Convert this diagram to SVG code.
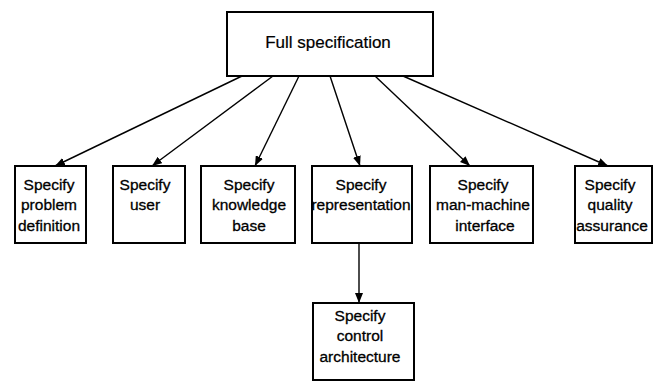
<svg xmlns="http://www.w3.org/2000/svg" width="653" height="382" viewBox="0 0 653 382">
<style>
.box{fill:#fff;stroke:#000;stroke-width:2}
.t{font-family:"Liberation Sans",Arial,sans-serif;font-size:15.5px;text-anchor:middle;fill:#000;stroke:#000;stroke-width:0.3}
.c{stroke:#000;stroke-width:1.4;fill:none;marker-end:url(#ah)}
</style>
<defs>
<marker id="ah" viewBox="0 0 10 8" refX="10" refY="4" markerWidth="10" markerHeight="8" markerUnits="userSpaceOnUse" orient="auto">
<path d="M0,0 L10,4 L0,8 Z" fill="#000"/>
</marker>
</defs>
<rect width="653" height="382" fill="#fff"/>
<g id="connectors">
<line class="c" x1="242" y1="76" x2="55" y2="166"/>
<line class="c" x1="273" y1="76" x2="152" y2="166"/>
<line class="c" x1="299" y1="76" x2="255" y2="166"/>
<line class="c" x1="330" y1="76" x2="360" y2="166"/>
<line class="c" x1="375" y1="76" x2="470" y2="166"/>
<line class="c" x1="403" y1="76" x2="608" y2="166"/>
<line class="c" x1="359" y1="243" x2="359" y2="303"/>
</g>
<g id="full">
<rect class="box" x="227" y="12" width="206" height="64"/>
<text class="t" x="328" y="48" style="font-size:17px;stroke-width:0.2">Full specification</text>
</g>
<g id="problem">
<rect class="box" x="15" y="166" width="71" height="77"/>
<text class="t" x="49" y="190">Specify</text>
<text class="t" x="49" y="210">problem</text>
<text class="t" x="49" y="231">definition</text>
</g>
<g id="user">
<rect class="box" x="113" y="166" width="72" height="77"/>
<text class="t" x="145" y="190">Specify</text>
<text class="t" x="145" y="210">user</text>
</g>
<g id="knowledge">
<rect class="box" x="201" y="166" width="94" height="77"/>
<text class="t" x="249" y="190">Specify</text>
<text class="t" x="249" y="210">knowledge</text>
<text class="t" x="249" y="231">base</text>
</g>
<g id="representation">
<rect class="box" x="312" y="166" width="100" height="77"/>
<text class="t" x="361" y="190">Specify</text>
<text class="t" x="361" y="210">representation</text>
</g>
<g id="mmi">
<rect class="box" x="430" y="166" width="103" height="77"/>
<text class="t" x="483" y="190">Specify</text>
<text class="t" x="483" y="210">man-machine</text>
<text class="t" x="485" y="231">interface</text>
</g>
<g id="quality">
<rect class="box" x="575" y="166" width="77" height="77"/>
<text class="t" x="610" y="190">Specify</text>
<text class="t" x="610" y="210">quality</text>
<text class="t" x="612" y="231">assurance</text>
</g>
<g id="control">
<rect class="box" x="313" y="303" width="101" height="77"/>
<text class="t" x="360" y="321">Specify</text>
<text class="t" x="360" y="341">control</text>
<text class="t" x="360" y="362">architecture</text>
</g>
</svg>
